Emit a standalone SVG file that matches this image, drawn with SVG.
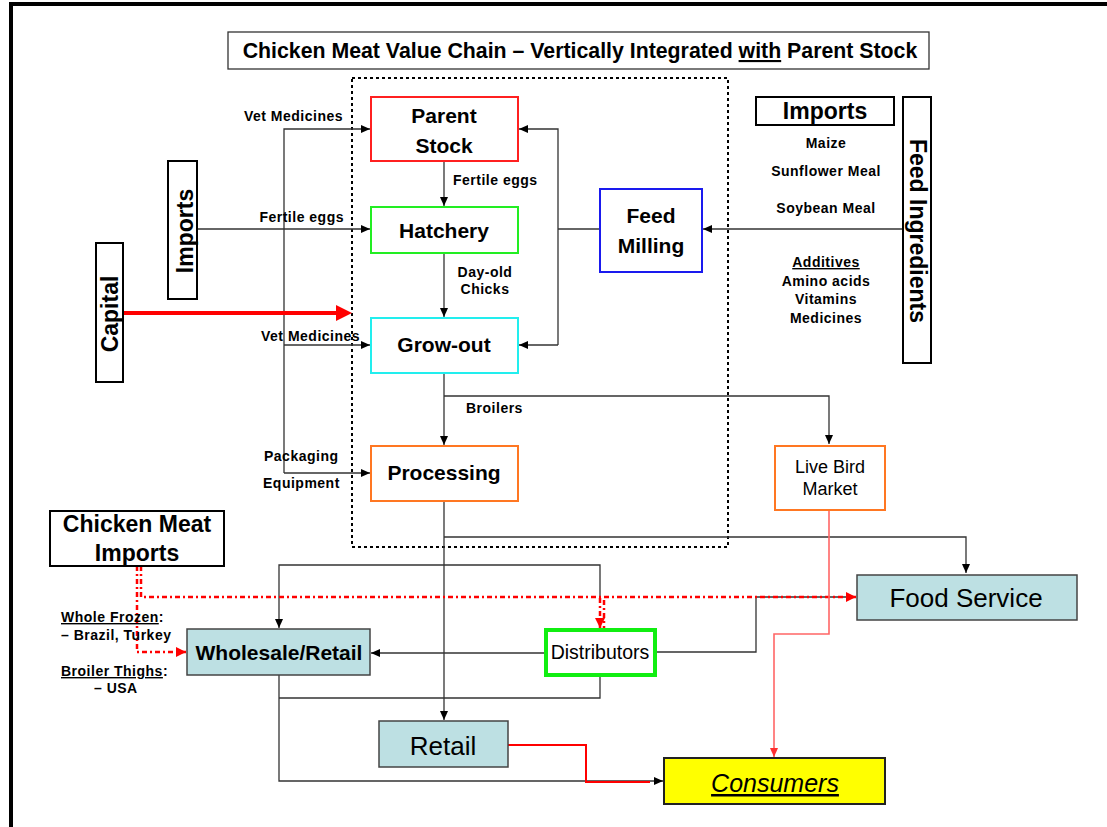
<svg xmlns="http://www.w3.org/2000/svg" width="1107" height="827" viewBox="0 0 1107 827">
<style>
text{font-family:"Liberation Sans",Arial,sans-serif;fill:#000}
.b{font-weight:bold}
.big{font-size:21px;font-weight:bold;text-anchor:middle}
.lbl{font-size:14px;font-weight:bold;letter-spacing:0.5px}
.mid{text-anchor:middle}
.ln{fill:none;stroke:#333;stroke-width:1.3}
.rd{fill:none;stroke:#ff0000;stroke-width:2.5;stroke-dasharray:5,3,2,3}
.box{fill:#fff;stroke:#000;stroke-width:2}
.blue{fill:#bde0e3;stroke:#444;stroke-width:1.5}
</style>
<defs>
<marker id="ab" viewBox="0 0 9 8" markerUnits="userSpaceOnUse" markerWidth="9" markerHeight="8" refX="9" refY="4" orient="auto"><path d="M0,0 L9,4 L0,8 z" fill="#000"/></marker>
<marker id="ar" viewBox="0 0 10 10" markerUnits="userSpaceOnUse" markerWidth="10" markerHeight="10" refX="10" refY="5" orient="auto"><path d="M0,0 L10,5 L0,10 z" fill="#ff0000"/></marker>
<marker id="arl" viewBox="0 0 9 8" markerUnits="userSpaceOnUse" markerWidth="9" markerHeight="8" refX="9" refY="4" orient="auto"><path d="M0,0 L9,4 L0,8 z" fill="#ff3030"/></marker>
</defs>
<rect width="1107" height="827" fill="#fff"/>
<path d="M11,827 V4 H1107" fill="none" stroke="#000" stroke-width="4"/>

<g id="title">
<rect x="228" y="32" width="701" height="37" fill="#fff" stroke="#333" stroke-width="1.3"/>
<text x="580" y="58" class="big" style="font-size:21.3px">Chicken Meat Value Chain – Vertically Integrated <tspan text-decoration="underline">with</tspan> Parent Stock</text>
</g>

<g id="integration-boundary">
<rect x="352" y="78" width="376" height="469" fill="none" stroke="#000" stroke-width="2" stroke-dasharray="3,3"/>
</g>

<g id="connectors">
<path class="ln" d="M284,473 V129 H370" marker-end="url(#ab)"/>
<path class="ln" d="M284,345 H370" marker-end="url(#ab)"/>
<path class="ln" d="M284,473 H370" marker-end="url(#ab)"/>
<path class="ln" d="M197,229 H370" marker-end="url(#ab)"/>
<path class="ln" d="M444,161 V206" marker-end="url(#ab)"/>
<path class="ln" d="M444,253 V317" marker-end="url(#ab)"/>
<path class="ln" d="M444,373 V445" marker-end="url(#ab)"/>
<path class="ln" d="M903,229 H703" marker-end="url(#ab)"/>
<path class="ln" d="M600,229 H558"/>
<path class="ln" d="M558,345 V129 H519" marker-end="url(#ab)"/>
<path class="ln" d="M558,345 H519" marker-end="url(#ab)"/>
<path class="ln" d="M444,396 H829 V444" marker-end="url(#ab)"/>
<path class="ln" d="M444,501 V720" marker-end="url(#ab)"/>
<path class="ln" d="M444,537 H966 V573" marker-end="url(#ab)"/>
<path class="ln" d="M600,597 V565 H279 V628" marker-end="url(#ab)"/>
<path class="ln" d="M544,653 H371" marker-end="url(#ab)"/>
<path class="ln" d="M656,652 H756 V597 H856"/>
<path class="ln" d="M600,677 V698 H279"/>
<path class="ln" d="M279,675 V781 H663" marker-end="url(#ab)"/>
<path d="M123,313 H338" fill="none" stroke="#ff0000" stroke-width="4"/>
<path d="M336,305 L352,313 L336,321 z" fill="#ff0000"/>
<path class="rd" d="M141,566 V597 H856" marker-end="url(#ar)"/>
<path class="rd" d="M137,566 V652 H186" marker-end="url(#ar)"/>
<path class="rd" d="M600,598 V628" marker-end="url(#ar)"/>
<path class="rd" d="M604,600 V628" stroke-width="2"/>
<path d="M508,745 H586 V782 H650" fill="none" stroke="#ff0000" stroke-width="2"/>
<path d="M829,510 V634 H774 V757" fill="none" stroke="#ff6666" stroke-width="1.6" marker-end="url(#arl)"/>
</g>

<g id="labels">
<text x="343" y="121" class="lbl" text-anchor="end">Vet Medicines</text>
<text x="344" y="222" class="lbl" text-anchor="end">Fertile eggs</text>
<text x="261" y="341" class="lbl">Vet Medicines</text>
<text x="264" y="461" class="lbl">Packaging</text>
<text x="263" y="488" class="lbl">Equipment</text>
<text x="453" y="185" class="lbl">Fertile eggs</text>
<text x="485" y="277" class="lbl mid">Day-old</text>
<text x="485" y="294" class="lbl mid">Chicks</text>
<text x="466" y="413" class="lbl">Broilers</text>
<text x="826" y="148" class="lbl mid">Maize</text>
<text x="826" y="176" class="lbl mid">Sunflower Meal</text>
<text x="826" y="213" class="lbl mid">Soybean Meal</text>
<text x="826" y="267" class="lbl mid" text-decoration="underline">Additives</text>
<text x="826" y="286" class="lbl mid">Amino acids</text>
<text x="826" y="304" class="lbl mid">Vitamins</text>
<text x="826" y="323" class="lbl mid">Medicines</text>
<text x="61" y="622" class="lbl"><tspan text-decoration="underline">Whole Frozen</tspan>:</text>
<text x="61" y="640" class="lbl">– Brazil, Turkey</text>
<text x="61" y="676" class="lbl"><tspan text-decoration="underline">Broiler Thighs</tspan>:</text>
<text x="94" y="693" class="lbl">– USA</text>
</g>

<g id="parent-stock">
<rect x="371" y="97" width="147" height="64" fill="#fff" stroke="#ff2020" stroke-width="2"/>
<text x="444" y="123" class="big">Parent</text>
<text x="444" y="153" class="big">Stock</text>
</g>
<g id="hatchery">
<rect x="371" y="207" width="147" height="46" fill="#fff" stroke="#22ee22" stroke-width="2"/>
<text x="444" y="238" class="big">Hatchery</text>
</g>
<g id="grow-out">
<rect x="371" y="318" width="147" height="55" fill="#fff" stroke="#22eeee" stroke-width="2"/>
<text x="444" y="352" class="big">Grow-out</text>
</g>
<g id="processing">
<rect x="371" y="446" width="147" height="55" fill="#fff" stroke="#ff7722" stroke-width="2"/>
<text x="444" y="480" class="big">Processing</text>
</g>
<g id="feed-milling">
<rect x="600" y="189" width="102" height="83" fill="#fff" stroke="#1a1aee" stroke-width="2"/>
<text x="651" y="223" class="big">Feed</text>
<text x="651" y="253" class="big">Milling</text>
</g>
<g id="imports-feed">
<rect x="756" y="97" width="138" height="28" class="box"/>
<text x="825" y="119" class="big" style="font-size:23px">Imports</text>
</g>
<g id="feed-ingredients">
<rect x="903" y="97" width="28" height="266" class="box"/>
<text transform="translate(910,231) rotate(90)" class="big" style="font-size:23px">Feed Ingredients</text>
</g>
<g id="imports-left">
<rect x="168" y="161" width="29" height="138" class="box"/>
<text transform="translate(193,231) rotate(-90)" class="big" style="font-size:23px">Imports</text>
</g>
<g id="capital">
<rect x="96" y="243" width="27" height="139" class="box"/>
<text transform="translate(118,314) rotate(-90)" class="big" style="font-size:23px">Capital</text>
</g>
<g id="live-bird-market">
<rect x="775" y="446" width="110" height="64" fill="#fff" stroke="#ff7722" stroke-width="2"/>
<text x="830" y="473" class="mid" style="font-size:18px">Live Bird</text>
<text x="830" y="495" class="mid" style="font-size:18px">Market</text>
</g>
<g id="chicken-meat-imports">
<rect x="50" y="511" width="174" height="55" class="box"/>
<text x="137" y="532" class="big" style="font-size:23px">Chicken Meat</text>
<text x="137" y="561" class="big" style="font-size:23px">Imports</text>
</g>
<g id="wholesale-retail">
<rect x="187" y="629" width="183" height="46" class="blue"/>
<text x="279" y="660" class="big">Wholesale/Retail</text>
</g>
<g id="distributors">
<rect x="546" y="630" width="109" height="45" fill="#fff" stroke="#11ee11" stroke-width="4"/>
<text x="600" y="659" class="mid" style="font-size:19.5px">Distributors</text>
</g>
<g id="food-service">
<rect x="857" y="575" width="220" height="45" class="blue"/>
<text x="966" y="607" class="mid" style="font-size:26px">Food Service</text>
</g>
<g id="retail">
<rect x="379" y="721" width="129" height="46" class="blue"/>
<text x="443" y="755" class="mid" style="font-size:26px">Retail</text>
</g>
<g id="consumers">
<rect x="664" y="758" width="221" height="46" fill="#ffff00" stroke="#222" stroke-width="2"/>
<text x="775" y="792" class="mid" style="font-size:25px;font-style:italic" text-decoration="underline">Consumers</text>
</g>
</svg>
